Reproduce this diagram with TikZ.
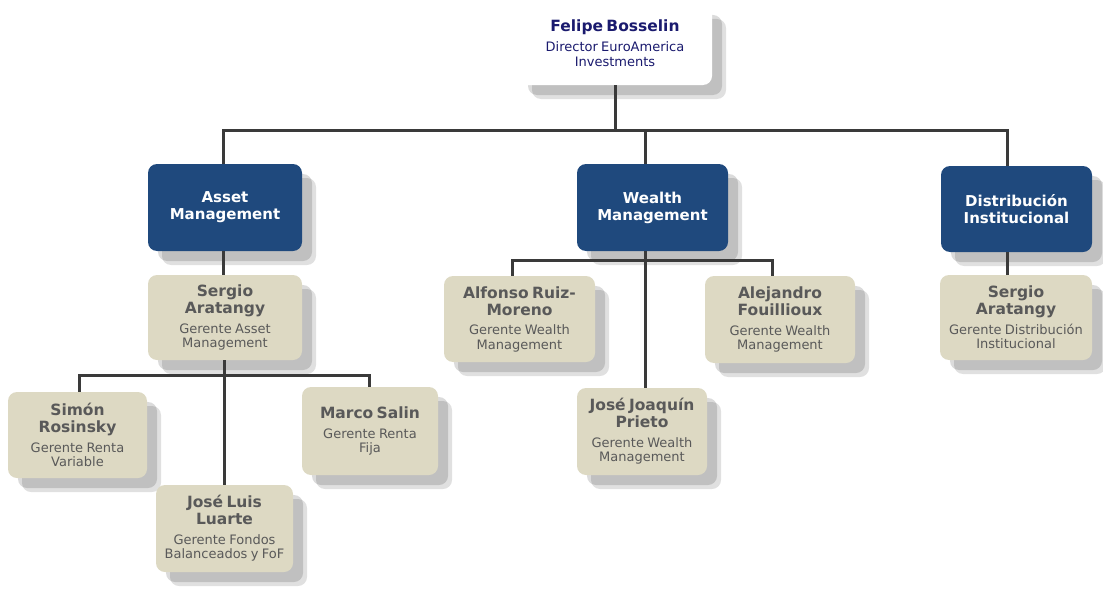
\documentclass[tikz,border=0pt]{standalone}
\usepackage{fontspec}
\setmainfont{DejaVu Sans}
\usetikzlibrary{shadows}
\definecolor{navybox}{HTML}{1F497D}
\definecolor{tanbox}{HTML}{DDD9C3}
\definecolor{linegray}{HTML}{3A3A3A}
\definecolor{txtgray}{HTML}{595959}
\definecolor{navytxt}{HTML}{1A1A6E}
\newcommand\nmtxt[1]{{\fontsize{15.5}{17}\selectfont\bfseries #1\par}}
\newcommand\sbtxt[1]{{\vspace{5pt}\fontsize{13}{14.5}\selectfont #1\par}}
\newcommand\bltxt[1]{{\fontsize{15}{17}\selectfont\bfseries #1\par}}
\tikzset{
  shd/.style={drop shadow={shadow xshift=14pt, shadow yshift=-14pt, opacity=0.12, fill=black},
              drop shadow={shadow xshift=10pt, shadow yshift=-10pt, opacity=0.14, fill=black}},
  basebox/.style={shd, rounded corners=9pt, inner xsep=0pt, inner ysep=2pt, align=center},
  tanb/.style={basebox, fill=tanbox, text=txtgray},
  blueb/.style={basebox, fill=navybox, text=white},
  whiteb/.style={basebox, fill=white, text=navytxt},
  conn/.style={draw=linegray, line width=3pt, line join=miter}
}
\begin{document}
\begin{tikzpicture}[x=1pt,y=-1pt]
\useasboundingbox (0,0) rectangle (1103,594);
% nodes
\node[whiteb, text width=194pt, minimum height=80pt] (top) at (615,45)
  {{\fontsize{15.5}{17}\selectfont\bfseries Felipe Bosselin\par}\vspace{1pt}\sbtxt{Director EuroAmerica\\Investments}\vspace{4pt}};
\node[blueb, text width=154pt, minimum height=87pt] (asset) at (225,207.5) {\bltxt{Asset\\Management}};
\node[blueb, text width=151pt, minimum height=87pt] (wealth) at (652.5,207.5) {\bltxt{Wealth\\Management}};
\node[blueb, text width=151pt, minimum height=86pt] (distrib) at (1016.5,209) {\bltxt{Distribución\\Institucional}};
\node[tanb, text width=154pt, minimum height=85pt] (sergioA) at (225,317.5)
  {\nmtxt{Sergio\\Aratangy}\sbtxt{Gerente Asset\\Management}};
\node[tanb, text width=139pt, minimum height=86pt] (simon) at (77.5,435)
  {\nmtxt{Simón\\Rosinsky}\sbtxt{Gerente Renta\\Variable}};
\node[tanb, text width=136pt, minimum height=88pt] (marco) at (370,431)
  {\nmtxt{Marco Salin}\sbtxt{Gerente Renta\\Fija}};
\node[tanb, text width=137pt, minimum height=87pt] (joseL) at (224.5,528.5)
  {\nmtxt{José Luis\\Luarte}\sbtxt{Gerente Fondos\\Balanceados y FoF}};
\node[tanb, text width=151pt, minimum height=86pt] (alfonso) at (519.5,319)
  {\nmtxt{Alfonso Ruiz-\\Moreno}\sbtxt{Gerente Wealth\\Management}};
\node[tanb, text width=150pt, minimum height=87pt] (alejandro) at (780,319.5)
  {\nmtxt{Alejandro\\Fouillioux}\sbtxt{Gerente Wealth\\Management}};
\node[tanb, text width=130pt, minimum height=87pt] (joseJ) at (642,431.5)
  {\nmtxt{José Joaquín\\Prieto}\sbtxt{Gerente Wealth\\Management}};
\node[tanb, text width=152pt, minimum height=85pt] (sergioD) at (1016,317.5)
  {\nmtxt{Sergio\\Aratangy}\sbtxt{Gerente Distribución\\Institucional}};
% connector coordinates
\coordinate (bL) at (223,130);
\coordinate (bM) at (645,130);
\coordinate (bR) at (1007,130);
\coordinate (cL) at (79,375);
\coordinate (cM) at (224,375);
\coordinate (cR) at (369,375);
\coordinate (dL) at (512,260);
\coordinate (dM) at (645,260);
\coordinate (dR) at (772,260);
% connectors
\draw[conn] (top.south) -- (top.south |- bL);
\draw[conn] (bL |- asset.north) -- (bL) -- (bR) -- (bR |- distrib.north);
\draw[conn] (bM) -- (bM |- wealth.north);
\draw[conn] (asset.south -| bL) -- (sergioA.north -| bL);
\draw[conn] (simon.north -| cL) -- (cL) -- (cR) -- (marco.north -| cR);
\draw[conn] (sergioA.south -| cM) -- (joseL.north -| cM);
\draw[conn] (alfonso.north -| dL) -- (dL) -- (dR) -- (alejandro.north -| dR);
\draw[conn] (wealth.south -| dM) -- (joseJ.north -| dM);
\draw[conn] (distrib.south -| bR) -- (sergioD.north -| bR);
\end{tikzpicture}
\end{document}
